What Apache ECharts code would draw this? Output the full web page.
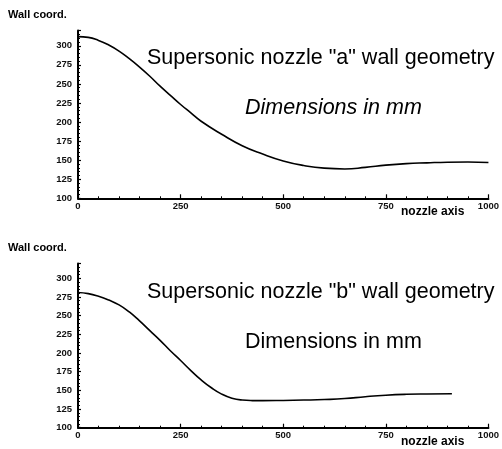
<!DOCTYPE html>
<html>
<head>
<meta charset="utf-8">
<style>
  html, body { margin: 0; padding: 0; background: #fff; }
  #chart { width: 502px; height: 449px; }
</style>
<script src="https://cdn.jsdelivr.net/npm/echarts@6/dist/echarts.min.js"></script>
</head>
<body>
<div id="chart"></div>
<script>
// Nozzle "a" wall contour (mm)
const xA = [0, 25, 50, 75, 100, 125, 150, 175, 200, 225, 250, 275, 300, 350, 400, 450, 500, 550, 600, 650, 700, 750, 800, 850, 900, 950, 1000];
const yA = [312, 311, 307, 301, 293, 283, 272, 260, 247, 235, 223, 212, 201, 184, 169, 158, 149, 143, 139.5, 138.5, 140.5, 143.5, 145.5, 146.5, 147.3, 147.5, 147];

// Nozzle "b" wall contour (mm)
const xB = [0, 25, 50, 75, 100, 125, 150, 175, 200, 225, 250, 275, 300, 325, 350, 375, 400, 425, 450, 500, 550, 600, 650, 700, 750, 800, 850, 911];
const yB = [281, 279.5, 276, 271, 264.5, 255, 243, 230, 217, 203, 190, 176.5, 164, 153.5, 145, 139.5, 137, 136.3, 136.2, 136.5, 137, 137.7, 139, 141.5, 143.5, 144.7, 145.2, 145.5];

const xTicks = [0, 250, 500, 750, 1000];
const yTicks = [100, 125, 150, 175, 200, 225, 250, 275, 300];

const titles = ['Supersonic nozzle "a" wall geometry', 'Supersonic nozzle "b" wall geometry'];
const subtitle = 'Dimensions in mm';
const yName = 'Wall coord.';
const xName = 'nozzle axis';

const pairs = (xs, ys) => xs.map((x, i) => [x, ys[i]]);

const labelFont = { fontFamily: 'Liberation Sans, Arial, sans-serif', fontWeight: 'bold', fontSize: 9.5, color: '#111' };

function xAxisFor(gi) {
  return {
    type: 'value', gridIndex: gi, min: 0, max: 1000, interval: 250,
    axisLine: { lineStyle: { color: '#000', width: 2 } },
    axisTick: { inside: true, length: 4, lineStyle: { color: '#000', width: 1.2 } },
    minorTick: { show: true, splitNumber: 5, length: 2, lineStyle: { color: '#000', width: 1 } },
    splitLine: { show: false },
    axisLabel: Object.assign({ margin: 3, formatter: v => xTicks.includes(v) ? String(v) : '' }, labelFont)
  };
}
function yAxisFor(gi) {
  return {
    type: 'value', gridIndex: gi, min: 100, max: 320, interval: 25,
    axisLine: { lineStyle: { color: '#000', width: 2 } },
    axisTick: { inside: true, length: 3, lineStyle: { color: '#000', width: 1.2 } },
    minorTick: { show: true, splitNumber: 5, length: 2, lineStyle: { color: '#000', width: 1 } },
    splitLine: { show: false },
    axisLabel: Object.assign({ margin: 6, showMaxLabel: false, formatter: v => yTicks.includes(v) ? String(v) : '' }, labelFont)
  };
}

const textFont = 'Liberation Sans, Arial, sans-serif';
function txt(x, y, text, size, weight, style) {
  return {
    type: 'text', x: x, y: y, silent: true,
    style: { text: text, fill: '#000', verticalAlign: 'middle',
      font: (style || 'normal') + ' ' + (weight || 'normal') + ' ' + size + 'px ' + textFont }
  };
}

const chart = echarts.init(document.getElementById('chart'), null, { renderer: 'canvas' });
chart.setOption({
  backgroundColor: '#fff',
  animation: false,
  grid: [
    { left: 78, right: 12, top: 30.5, bottom: 250.7 },
    { left: 78, right: 12, top: 263.4, bottom: 21.3 }
  ],
  xAxis: [xAxisFor(0), xAxisFor(1)],
  yAxis: [yAxisFor(0), yAxisFor(1)],
  series: [
    { type: 'line', xAxisIndex: 0, yAxisIndex: 0, data: pairs(xA, yA), smooth: 0.5, showSymbol: false,
      lineStyle: { color: '#000', width: 1.6 } },
    { type: 'line', xAxisIndex: 1, yAxisIndex: 1, data: pairs(xB, yB), smooth: 0.5, showSymbol: false,
      lineStyle: { color: '#000', width: 1.6 } }
  ],
  graphic: [
    txt(8, 15, yName, 11, 'bold'),
    txt(8, 248, yName, 11, 'bold'),
    txt(401, 212, xName, 12, 'bold'),
    txt(401, 442, xName, 12, 'bold'),
    txt(147, 58, titles[0], 21.5),
    txt(245, 108, subtitle, 21.5, 'normal', 'italic'),
    txt(147, 292, titles[1], 21.5),
    txt(245, 342, subtitle, 21.5)
  ]
});
</script>
</body>
</html>
